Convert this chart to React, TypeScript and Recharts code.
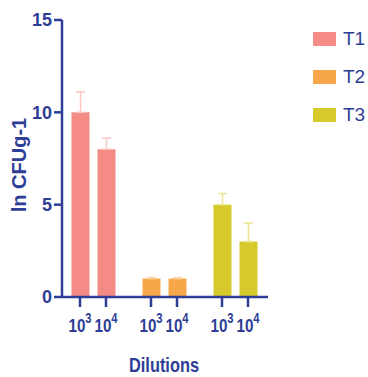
import React from "react";
import { BarChart, Bar, XAxis, YAxis, Legend, ErrorBar, Cell, Label } from "recharts";

const groups = ["T1", "T2", "T3"];
const dilutionExp = ["3", "4"];
const cfu3 = [10, 1, 5];
const cfu4 = [8, 1, 3];
const sd3 = [1.1, 0.05, 0.6];
const sd4 = [0.6, 0.05, 1.0];
const yTicks = [0, 5, 10, 15];

const colors = ["#f48b85", "#f7a64a", "#d8c92c"];
const errColors = ["#fbc6c1", "#fbd3a4", "#eee58f"];
const blue = "#2e3d96";
const font = "'Liberation Sans', Arial, sans-serif";
const BAR_SIZE = 18;
const BAR_GAP = 8;

const rows = groups.map((g, i) => ({
  group: g,
  d3: cfu3[i],
  d4: cfu4[i],
  [`err3_${g}`]: [0, sd3[i]],
  [`err4_${g}`]: [0, sd4[i]],
}));

// two sub-ticks per treatment, one under each bar
const DilutionTick = ({ x, y }: any) => {
  const half = (BAR_SIZE + BAR_GAP) / 2;
  return (
    <g>
      {dilutionExp.map((d, i) => {
        const cx = x + (i === 0 ? -half : half);
        return (
          <g key={d}>
            <line x1={cx} x2={cx} y1={y} y2={y + 10} stroke={blue} strokeWidth={2.5} />
            <text
              x={0}
              y={0}
              transform={`translate(${cx},${y + 35}) scale(0.8,1)`}
              textAnchor="middle"
              fill={blue}
              fontFamily={font}
              fontWeight="bold"
              fontSize={19}
            >
              10
              <tspan dy={-9} fontSize={14}>{d}</tspan>
            </text>
          </g>
        );
      })}
    </g>
  );
};

const renderLegend = () => (
  <div style={{ display: "flex", flexDirection: "column" }}>
    {groups.map((g, i) => (
      <div key={g} style={{ display: "flex", alignItems: "center", height: 38 }}>
        <span style={{ width: 23, height: 14, background: colors[i], marginRight: 7 }} />
        <span style={{ fontSize: 19, color: blue, fontFamily: font }}>{g}</span>
      </div>
    ))}
  </div>
);

export default function App() {
  return (
    <div style={{ position: "absolute", left: 0, top: 0, background: "#fff" }}>
      <BarChart
        width={368}
        height={377}
        data={rows}
        margin={{ top: 20, right: 45, bottom: 5, left: 22 }}
        barSize={BAR_SIZE}
        barGap={BAR_GAP}
      >
        <XAxis
          dataKey="group"
          height={75}
          tickLine={false}
          tickSize={0}
          tickMargin={0}
          interval={0}
          padding={{ left: -4.5, right: -2.5 }}
          axisLine={{ stroke: blue, strokeWidth: 2.5 }}
          tick={<DilutionTick />}
        >
          <Label
            content={({ viewBox }: any) => (
              <text
                x={0}
                y={0}
                transform={`translate(${viewBox.x + viewBox.width / 2 - 1},${viewBox.y + viewBox.height}) scale(0.82,1)`}
                textAnchor="middle"
                fill={blue}
                fontFamily={font}
                fontWeight="bold"
                fontSize={20}
              >
                Dilutions
              </text>
            )}
          />
        </XAxis>
        <YAxis
          width={40}
          domain={[0, 15]}
          ticks={yTicks}
          tickSize={8}
          axisLine={{ stroke: blue, strokeWidth: 2.5 }}
          tickLine={{ stroke: blue, strokeWidth: 2.5 }}
          tick={{ fill: blue, fontFamily: font, fontWeight: "bold", fontSize: 18 }}
          label={{
            content: () => (
              <text
                x={26}
                y={165}
                transform="rotate(-90, 26, 165)"
                textAnchor="middle"
                fill={blue}
                fontFamily={font}
                fontWeight="bold"
                fontSize={20}
              >
                ln CFUg-1
              </text>
            ),
          }}
        />
        <Legend
          layout="vertical"
          align="right"
          verticalAlign="top"
          content={renderLegend}
          wrapperStyle={{ left: 313, top: 20, right: "auto", width: 55 }}
        />
        {dilutionExp.map((d) => (
          <Bar key={d} dataKey={`d${d}`} isAnimationActive={false}>
            {groups.map((g, gi) => (
              <Cell key={g} fill={colors[gi]} />
            ))}
            {groups.map((g, gi) => (
              <ErrorBar
                key={g}
                dataKey={`err${d}_${g}`}
                direction="y"
                width={4.5}
                stroke={errColors[gi]}
                strokeWidth={1.5}
                isAnimationActive={false}
              />
            ))}
          </Bar>
        ))}
      </BarChart>
    </div>
  );
}
